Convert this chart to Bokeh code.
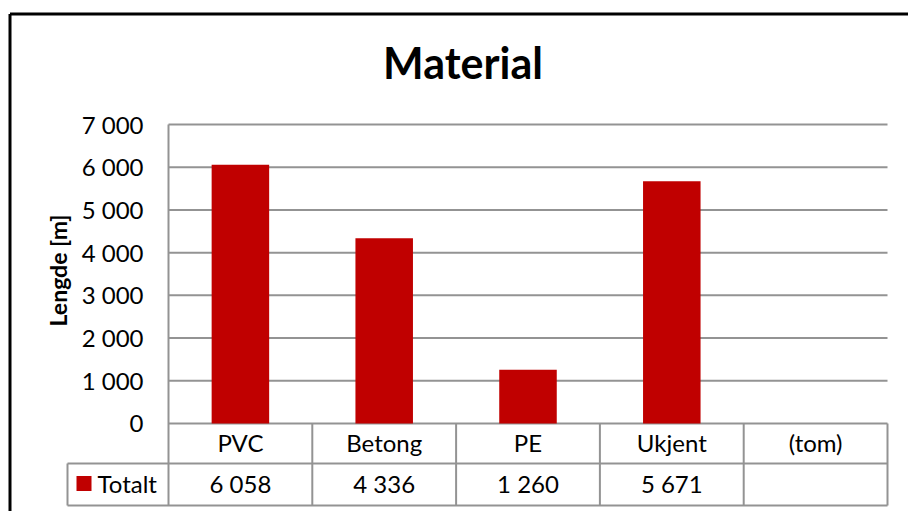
import math

from bokeh.plotting import figure
from bokeh.models import Range1d
from bokeh.core.properties import value
from bokeh.embed import file_html
from bokeh.resources import INLINE

# --- data ---------------------------------------------------------------
categories = ["PVC", "Betong", "PE", "Ukjent", "(tom)"]
lengths = [6058, 4336, 1260, 5671, None]          # metres, "(tom)" is empty
y_ticks = [0, 1000, 2000, 3000, 4000, 5000, 6000, 7000]
series_name = "Totalt"
chart_title = "Material"
y_label = "Lengde [m]"

# --- layout (pixels on the canvas) --------------------------------------
W, H = 908, 511
PLOT_LEFT, PLOT_RIGHT = 168, 887
PLOT_TOP, PLOT_ZERO = 124, 423
ROW1_BOTTOM, ROW2_BOTTOM = 463, 505
LEGEND_LEFT = 67

BAR_COLOR = "#C00000"
LINE_COLOR = "#939393"
FONT = "Lato"

n = len(categories)
cat_px = (PLOT_RIGHT - PLOT_LEFT) / n
val_px = (PLOT_ZERO - PLOT_TOP) / y_ticks[-1]


def X(px):
    return (px - PLOT_LEFT) / cat_px


def Y(py):
    return (PLOT_ZERO - py) / val_px


def fmt(v):
    return f"{v:,}".replace(",", " ")


p = figure(
    width=W, height=H,
    x_range=Range1d(X(0), X(W)), y_range=Range1d(Y(H), Y(0)),
    output_backend="svg", toolbar_location=None,
    x_axis_location=None, y_axis_location=None,
    min_border=0, outline_line_color=None,
)
p.min_border_left = p.min_border_right = 0
p.min_border_top = p.min_border_bottom = 0
p.background_fill_color = "white"
p.border_fill_color = "white"
p.grid.grid_line_color = None

# chart area border (left and top edges)
p.segment(x0=[X(9.5), X(9.5)], y0=[Y(13.5), Y(13.5)],
          x1=[X(9.5), X(W + 10)], y1=[Y(H + 10), Y(13.5)],
          line_color="black", line_width=3)

# horizontal gridlines
p.segment(x0=[0] * len(y_ticks), y0=y_ticks, x1=[n] * len(y_ticks), y1=y_ticks,
          line_color=LINE_COLOR, line_width=2)

# bars
bar_x = [i + 0.5 for i, v in enumerate(lengths) if v is not None]
bar_top = [v for v in lengths if v is not None]
p.vbar(x=bar_x, top=bar_top, bottom=0, width=0.4,
       fill_color=BAR_COLOR, line_color=None)

# data table grid
vx0 = [0] + list(range(1, n + 1)) + [X(LEGEND_LEFT)]
vy0 = [y_ticks[-1]] + [0] * n + [Y(ROW1_BOTTOM)]
vx1 = vx0
vy1 = [Y(ROW2_BOTTOM)] * (n + 2)
hx0 = [X(LEGEND_LEFT), X(LEGEND_LEFT)]
hy0 = [Y(ROW1_BOTTOM), Y(ROW2_BOTTOM)]
hx1 = [n, n]
p.segment(x0=vx0 + hx0, y0=vy0 + hy0, x1=vx1 + hx1, y1=vy1 + hy0,
          line_color=LINE_COLOR, line_width=2)

row1_mid = Y((PLOT_ZERO + ROW1_BOTTOM) / 2 - 1)
row2_mid = Y((ROW1_BOTTOM + ROW2_BOTTOM) / 2 - 1)

# category labels
p.text(x=[i + 0.5 for i in range(n)], y=[row1_mid] * n, text=categories,
       text_font=value(FONT), text_font_size="24px", text_color="black",
       text_align="center", text_baseline="middle")

# value row
vals = [(i + 0.5, fmt(v)) for i, v in enumerate(lengths) if v is not None]
p.text(x=[a for a, _ in vals], y=[row2_mid] * len(vals), text=[b for _, b in vals],
       text_font=value(FONT), text_font_size="24px", text_color="black",
       text_align="center", text_baseline="middle")

# legend key inside the table
p.scatter(x=[X(83.5)], y=[row2_mid], marker="square", size=15,
          fill_color=BAR_COLOR, line_color=None)
p.text(x=[X(97)], y=[row2_mid], text=[series_name],
       text_font=value(FONT), text_font_size="24px", text_color="black",
       text_align="left", text_baseline="middle")

# value axis tick labels
p.text(x=[X(143)] * len(y_ticks), y=[t + 0.5 / val_px for t in y_ticks],
       text=[fmt(t) for t in y_ticks],
       text_font=value(FONT), text_font_size="24px", text_color="black",
       text_align="right", text_baseline="middle")

# value axis title
p.text(x=[X(57)], y=[Y(270)], text=[y_label], angle=math.pi / 2,
       text_font=value(FONT), text_font_size="23px", text_font_style="bold",
       text_color="black", text_align="center", text_baseline="middle")

# chart title
p.text(x=[X(462.5)], y=[Y(62)], text=[chart_title],
       text_font=value(FONT), text_font_size="43px", text_font_style="bold",
       text_color="black", text_align="center", text_baseline="middle")

open("out.html", "w").write(file_html(p, INLINE))
